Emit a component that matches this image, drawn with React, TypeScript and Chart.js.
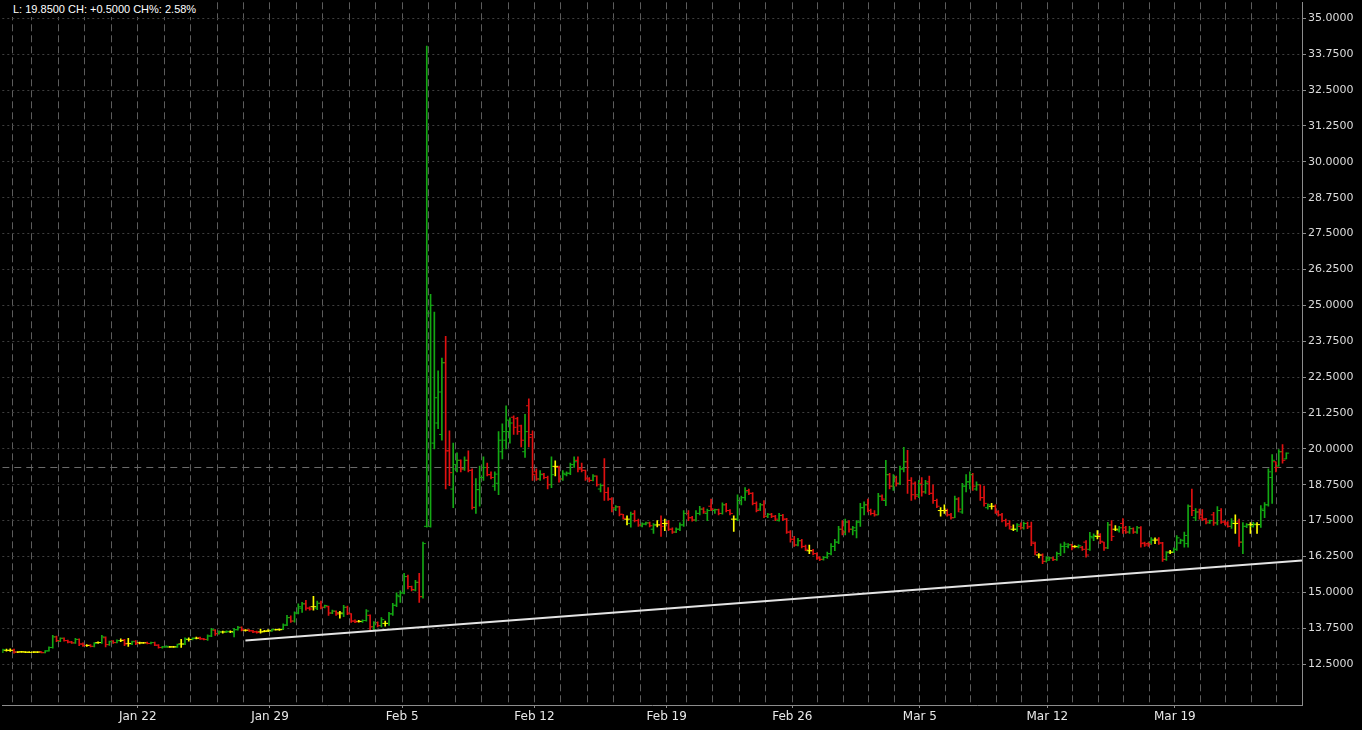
import React, { useEffect, useRef } from "react";
import { Chart, registerables } from "chart.js";

Chart.register(...registerables);

// [open, high, low, close]
type Bar = [number, number, number, number];

// Trading days shown (first and last are partial sessions)
const dayDates: string[] = [
  "Jan 12",
  "Jan 15", "Jan 16", "Jan 17", "Jan 18", "Jan 19",
  "Jan 22", "Jan 23", "Jan 24", "Jan 25", "Jan 26",
  "Jan 29", "Jan 30", "Jan 31", "Feb 1", "Feb 2",
  "Feb 5", "Feb 6", "Feb 7", "Feb 8", "Feb 9",
  "Feb 12", "Feb 13", "Feb 14", "Feb 15", "Feb 16",
  "Feb 19", "Feb 20", "Feb 21", "Feb 22", "Feb 23",
  "Feb 26", "Feb 27", "Feb 28", "Mar 1", "Mar 2",
  "Mar 5", "Mar 6", "Mar 7", "Mar 8", "Mar 9",
  "Mar 12", "Mar 13", "Mar 14", "Mar 15", "Mar 16",
  "Mar 19", "Mar 20", "Mar 21", "Mar 22", "Mar 23",
];

// Session length (hours) of each day on the time axis
const sessionHours: number[] = [
  3,
  5.25, 7, 7, 7, 7,
  7, 7, 7, 7, 7,
  7, 7, 7, 7, 7,
  7, 7, 7, 7, 7,
  7, 7, 7, 7, 7,
  5.25, 7, 7, 7, 7,
  6.75, 6.75, 6.75, 6.75, 6.75,
  6.75, 6.75, 6.75, 6.75, 6.75,
  6.75, 6.75, 6.75, 6.75, 6.75,
  6.75, 6.75, 6.75, 6.75, 3,
];

const labeledDays: string[] = ["Jan 22", "Jan 29", "Feb 5", "Feb 12", "Feb 19", "Feb 26", "Mar 5", "Mar 12", "Mar 19"];

const yTickValues: number[] = [12.5, 13.75, 15, 16.25, 17.5, 18.75, 20, 21.25, 22.5, 23.75, 25, 26.25, 27.5, 28.75, 30, 31.25, 32.5, 33.75, 35];

const weekJan12: Bar[][] = [
  [[12.92, 13.02, 12.9, 13.0], [12.98, 13.02, 12.95, 12.98], [12.98, 13.03, 12.94, 12.98]],
];

const weekJan15: Bar[][] = [
  [[12.99, 13.02, 12.88, 12.92], [12.92, 12.94, 12.9, 12.92], [12.93, 12.95, 12.91, 12.93], [12.92, 12.94, 12.9, 12.92], [12.91, 12.93, 12.9, 12.91]],
  [[12.92, 12.94, 12.9, 12.92], [12.92, 12.94, 12.9, 12.92], [12.93, 12.94, 12.89, 12.9], [12.9, 12.97, 12.89, 12.96], [12.96, 13.1, 12.95, 13.08], [13.08, 13.5, 13.06, 13.45], [13.45, 13.48, 13.28, 13.32]],
  [[13.3, 13.42, 13.28, 13.4], [13.4, 13.42, 13.3, 13.32], [13.32, 13.34, 13.24, 13.27], [13.27, 13.29, 13.22, 13.24], [13.24, 13.4, 13.22, 13.36], [13.36, 13.38, 13.14, 13.2], [13.2, 13.24, 13.12, 13.15]],
  [[13.15, 13.18, 13.12, 13.15], [13.16, 13.18, 13.1, 13.12], [13.12, 13.25, 13.1, 13.22], [13.25, 13.28, 13.22, 13.25], [13.25, 13.5, 13.22, 13.45], [13.42, 13.45, 13.1, 13.18], [13.18, 13.3, 13.15, 13.28]],
  [[13.3, 13.32, 13.22, 13.25], [13.25, 13.35, 13.24, 13.32], [13.32, 13.38, 13.28, 13.32], [13.34, 13.36, 13.14, 13.2], [13.22, 13.4, 13.12, 13.22], [13.2, 13.3, 13.18, 13.28], [13.3, 13.32, 13.18, 13.22]],
];

const weekJan22: Bar[][] = [
  [[13.24, 13.27, 13.2, 13.24], [13.24, 13.26, 13.22, 13.24], [13.25, 13.27, 13.2, 13.22], [13.22, 13.27, 13.2, 13.25], [13.25, 13.27, 13.14, 13.16], [13.16, 13.18, 13.06, 13.08], [13.08, 13.12, 13.06, 13.1]],
  [[13.1, 13.14, 13.08, 13.12], [13.1, 13.12, 13.08, 13.1], [13.1, 13.12, 13.08, 13.1], [13.1, 13.2, 13.08, 13.18], [13.2, 13.36, 13.08, 13.2], [13.2, 13.42, 13.18, 13.38], [13.36, 13.42, 13.3, 13.36]],
  [[13.36, 13.42, 13.34, 13.4], [13.4, 13.44, 13.38, 13.4], [13.42, 13.44, 13.36, 13.38], [13.38, 13.4, 13.34, 13.36], [13.36, 13.52, 13.33, 13.48], [13.48, 13.75, 13.46, 13.7], [13.68, 13.7, 13.5, 13.56]],
  [[13.56, 13.66, 13.54, 13.62], [13.62, 13.65, 13.58, 13.62], [13.62, 13.66, 13.6, 13.64], [13.63, 13.66, 13.6, 13.63], [13.6, 13.75, 13.45, 13.7], [13.7, 13.82, 13.68, 13.78], [13.78, 13.8, 13.66, 13.7]],
  [[13.68, 13.7, 13.65, 13.68], [13.69, 13.7, 13.64, 13.66], [13.66, 13.68, 13.6, 13.62], [13.63, 13.65, 13.58, 13.6], [13.62, 13.72, 13.58, 13.62], [13.64, 13.68, 13.62, 13.64], [13.66, 13.7, 13.63, 13.66]],
];

const weekJan29: Bar[][] = [
  [[13.66, 13.72, 13.64, 13.7], [13.7, 13.72, 13.68, 13.7], [13.7, 13.73, 13.67, 13.7], [13.72, 13.9, 13.7, 13.86], [13.86, 14.2, 13.84, 14.12], [14.12, 14.18, 13.95, 14.0], [14.0, 14.32, 13.96, 14.28]],
  [[14.28, 14.6, 14.25, 14.5], [14.45, 14.65, 14.3, 14.6], [14.6, 14.72, 14.38, 14.45], [14.45, 14.5, 14.38, 14.42], [14.5, 14.86, 14.38, 14.5], [14.45, 14.7, 14.4, 14.62], [14.62, 14.7, 14.42, 14.48]],
  [[14.48, 14.56, 14.46, 14.54], [14.5, 14.52, 14.2, 14.28], [14.28, 14.38, 14.26, 14.35], [14.34, 14.36, 14.2, 14.24], [14.28, 14.34, 14.1, 14.28], [14.25, 14.55, 14.15, 14.48], [14.48, 14.52, 14.22, 14.28]],
  [[14.25, 14.26, 13.95, 14.0], [14.0, 14.04, 13.94, 13.97], [13.99, 14.03, 13.96, 13.99], [13.98, 14.04, 13.95, 14.02], [14.02, 14.4, 14.0, 14.35], [14.2, 14.22, 13.68, 13.8], [13.8, 13.98, 13.7, 13.94]],
  [[13.95, 13.97, 13.8, 13.84], [13.84, 14.12, 13.8, 14.05], [13.92, 14.0, 13.82, 13.92], [13.92, 14.3, 13.85, 14.25], [14.25, 14.62, 14.2, 14.55], [14.55, 14.98, 14.5, 14.9], [14.85, 15.05, 14.65, 14.98]],
];

const weekFeb05: Bar[][] = [
  [[14.98, 15.66, 14.95, 15.55], [15.55, 15.6, 15.12, 15.2], [15.2, 15.22, 15.05, 15.1], [15.08, 15.42, 15.05, 15.35], [15.35, 15.66, 14.65, 14.85], [14.85, 16.75, 14.8, 16.7], [17.3, 34.03, 17.27, 24.73]],
  [[17.3, 25.38, 17.27, 25.0], [20.2, 24.76, 20.0, 21.78], [20.9, 22.72, 20.7, 21.98], [20.5, 23.16, 20.3, 23.0], [23.0, 23.92, 18.6, 19.93], [19.93, 20.63, 18.72, 19.17], [18.6, 20.2, 17.95, 19.45]],
  [[19.3, 19.86, 19.2, 19.6], [19.6, 19.62, 19.2, 19.3], [19.3, 19.72, 19.25, 19.6], [19.6, 19.93, 19.2, 19.25], [19.25, 19.3, 17.9, 17.96], [17.96, 18.96, 17.75, 18.58], [18.58, 19.4, 18.0, 19.0]],
  [[19.0, 19.72, 18.9, 19.35], [19.35, 19.5, 19.06, 19.1], [19.1, 19.2, 18.95, 19.0], [18.7, 19.2, 18.55, 19.12], [18.8, 20.6, 18.4, 20.3], [19.9, 20.87, 19.65, 20.6], [20.3, 21.5, 20.0, 21.0]],
  [[20.6, 21.08, 20.2, 20.9], [21.1, 21.15, 20.5, 20.75], [21.05, 21.1, 20.5, 20.6], [20.8, 20.83, 20.07, 20.3], [19.9, 21.2, 19.7, 20.6], [21.5, 21.74, 20.07, 20.4], [20.5, 20.63, 18.9, 19.1]],
];

const weekFeb12: Bar[][] = [
  [[19.2, 19.3, 18.9, 18.95], [18.95, 19.24, 18.9, 19.1], [19.12, 19.15, 18.95, 19.0], [19.0, 19.05, 18.6, 18.75], [18.75, 19.72, 18.65, 19.1], [19.39, 19.58, 19.06, 19.39], [19.35, 19.4, 18.84, 18.95]],
  [[18.95, 19.24, 18.9, 19.15], [19.1, 19.2, 19.06, 19.15], [19.15, 19.5, 19.1, 19.45], [19.45, 19.72, 19.35, 19.55], [19.6, 19.72, 19.2, 19.3], [19.3, 19.5, 19.2, 19.25], [19.25, 19.26, 18.9, 18.98]],
  [[18.95, 19.0, 18.85, 18.9], [18.9, 19.1, 18.88, 19.05], [19.05, 19.06, 18.7, 18.75], [18.6, 18.78, 18.5, 18.72], [18.72, 19.66, 18.2, 18.48], [18.48, 18.65, 18.2, 18.25], [18.25, 18.3, 17.8, 17.95]],
  [[17.9, 18.02, 17.85, 17.98], [17.98, 18.0, 17.66, 17.72], [17.72, 17.72, 17.55, 17.58], [17.55, 17.67, 17.35, 17.55], [17.4, 17.8, 17.27, 17.72], [17.75, 17.85, 17.45, 17.5], [17.5, 17.55, 17.3, 17.35]],
  [[17.32, 17.42, 17.28, 17.38], [17.38, 17.45, 17.35, 17.42], [17.42, 17.45, 17.28, 17.32], [17.2, 17.4, 17.05, 17.35], [17.35, 17.5, 17.28, 17.35], [17.35, 17.67, 16.95, 17.3], [17.4, 17.55, 17.15, 17.4]],
];

const weekFeb19: Bar[][] = [
  [[17.45, 17.5, 17.15, 17.2], [17.2, 17.25, 17.05, 17.1], [17.1, 17.25, 17.08, 17.2], [17.2, 17.42, 17.15, 17.35], [17.35, 17.85, 17.3, 17.75]],
  [[17.75, 17.85, 17.5, 17.6], [17.6, 17.65, 17.48, 17.52], [17.52, 17.85, 17.48, 17.75], [17.75, 18.0, 17.7, 17.9], [17.9, 17.95, 17.75, 17.8], [17.75, 17.9, 17.5, 17.85], [18.0, 18.25, 17.85, 17.9]],
  [[17.85, 17.9, 17.75, 17.88], [17.88, 17.9, 17.7, 17.75], [17.75, 18.12, 17.72, 18.05], [18.05, 18.1, 17.8, 17.85], [17.85, 17.88, 17.7, 17.75], [17.55, 17.67, 17.12, 17.55], [17.55, 18.4, 17.5, 18.2]],
  [[18.2, 18.35, 18.05, 18.3], [18.3, 18.65, 18.2, 18.5], [18.55, 18.6, 18.4, 18.45], [18.45, 18.48, 18.05, 18.1], [18.1, 18.15, 17.8, 17.85], [17.9, 18.1, 17.85, 18.05], [18.05, 18.2, 17.6, 17.65]],
  [[17.65, 17.75, 17.6, 17.72], [17.72, 17.75, 17.6, 17.65], [17.65, 17.68, 17.5, 17.55], [17.5, 17.75, 17.48, 17.68], [17.68, 17.72, 17.5, 17.55], [17.55, 17.58, 17.05, 17.1], [17.1, 17.15, 16.75, 16.85]],
];

const weekFeb26: Bar[][] = [
  [[16.85, 16.95, 16.6, 16.65], [16.65, 16.88, 16.62, 16.8], [16.8, 16.85, 16.55, 16.6], [16.6, 16.65, 16.45, 16.5], [16.45, 16.65, 16.35, 16.45], [16.45, 16.5, 16.3, 16.35], [16.35, 16.38, 16.15, 16.2]],
  [[16.2, 16.25, 16.1, 16.15], [16.15, 16.25, 16.12, 16.22], [16.22, 16.4, 16.18, 16.35], [16.35, 16.7, 16.3, 16.6], [16.6, 16.85, 16.45, 16.75], [16.75, 17.3, 16.7, 17.2], [17.2, 17.5, 17.0, 17.1]],
  [[17.1, 17.55, 17.0, 17.45], [17.45, 17.5, 17.1, 17.2], [17.2, 17.3, 17.0, 17.25], [17.15, 17.5, 16.9, 17.45], [17.45, 18.1, 17.3, 17.95], [17.95, 18.15, 17.7, 18.05], [18.05, 18.25, 17.8, 17.85]],
  [[17.85, 17.9, 17.7, 17.75], [17.75, 17.85, 17.65, 17.7], [17.7, 18.45, 17.7, 18.35], [18.35, 18.4, 18.2, 18.25], [18.2, 19.6, 18.02, 19.1], [19.1, 19.15, 18.6, 18.7], [18.7, 19.1, 18.55, 19.0]],
  [[19.0, 19.05, 18.7, 18.8], [18.8, 19.4, 18.75, 19.3], [19.3, 20.05, 19.2, 19.55], [19.55, 19.95, 18.45, 18.9], [18.9, 19.0, 18.2, 18.4], [18.8, 18.85, 18.25, 18.35], [18.4, 18.9, 18.3, 18.75]],
];

const weekMar05: Bar[][] = [
  [[18.8, 19.0, 18.35, 18.5], [18.5, 18.9, 18.45, 18.8], [18.85, 19.05, 18.4, 18.45], [18.45, 18.75, 18.1, 18.2], [18.2, 18.25, 17.95, 18.0], [17.85, 17.95, 17.65, 17.85], [17.85, 18.05, 17.75, 17.85]],
  [[17.85, 17.9, 17.65, 17.7], [17.7, 17.75, 17.55, 17.6], [17.6, 18.35, 17.6, 18.25], [18.25, 18.3, 17.8, 17.9], [17.8, 18.8, 17.75, 18.7], [18.7, 19.1, 18.5, 18.85], [18.85, 19.2, 18.6, 19.1]],
  [[19.1, 19.15, 18.55, 18.7], [18.6, 18.85, 18.55, 18.75], [18.75, 18.75, 18.2, 18.3], [18.3, 18.7, 18.0, 18.1], [17.95, 18.08, 17.9, 18.05], [18.0, 18.1, 17.9, 18.0], [18.0, 18.05, 17.75, 17.8]],
  [[17.8, 17.85, 17.65, 17.7], [17.7, 17.75, 17.45, 17.5], [17.5, 17.55, 17.3, 17.35], [17.4, 17.5, 17.2, 17.28], [17.2, 17.35, 17.15, 17.2], [17.2, 17.4, 17.12, 17.35], [17.3, 17.42, 17.2, 17.25]],
  [[17.25, 17.45, 17.2, 17.4], [17.4, 17.45, 17.22, 17.28], [17.3, 17.45, 16.63, 16.75], [16.7, 16.75, 16.3, 16.4], [16.3, 16.35, 16.2, 16.3], [16.3, 16.34, 16.0, 16.08], [16.08, 16.25, 16.05, 16.2]],
];

const weekMar12: Bar[][] = [
  [[16.12, 16.23, 16.11, 16.2], [16.2, 16.23, 16.1, 16.14], [16.14, 16.4, 16.11, 16.35], [16.35, 16.69, 16.28, 16.6], [16.6, 16.75, 16.37, 16.68], [16.6, 16.7, 16.55, 16.65], [16.67, 16.67, 16.48, 16.55]],
  [[16.6, 16.63, 16.56, 16.6], [16.58, 16.66, 16.55, 16.62], [16.57, 16.6, 16.46, 16.5], [16.75, 16.8, 16.23, 16.3], [16.5, 17.09, 16.46, 16.95], [16.9, 17.04, 16.8, 16.98], [16.95, 17.15, 16.86, 16.95]],
  [[17.0, 17.05, 16.7, 16.78], [16.75, 16.75, 16.46, 16.55], [16.55, 17.44, 16.52, 17.35], [17.35, 17.5, 16.8, 16.95], [17.2, 17.33, 17.15, 17.2], [17.15, 17.3, 17.1, 17.25], [17.4, 17.57, 17.05, 17.15]],
  [[17.25, 17.3, 17.05, 17.1], [17.1, 17.3, 17.05, 17.22], [17.22, 17.25, 17.05, 17.1], [17.1, 17.3, 17.05, 17.25], [17.25, 17.29, 16.57, 16.7], [16.72, 16.75, 16.6, 16.65], [16.7, 16.75, 16.6, 16.68]],
  [[16.75, 16.91, 16.67, 16.85], [16.82, 16.9, 16.7, 16.82], [16.85, 16.91, 16.67, 16.72], [16.72, 16.74, 16.08, 16.15], [16.15, 16.42, 16.11, 16.38], [16.4, 16.46, 16.35, 16.4], [16.4, 16.55, 16.38, 16.5]],
];

const weekMar19: Bar[][] = [
  [[16.5, 16.98, 16.46, 16.9], [16.72, 16.86, 16.7, 16.82], [16.8, 17.1, 16.57, 16.98], [16.7, 18.05, 16.57, 18.0], [18.0, 18.6, 17.67, 17.85], [17.6, 17.92, 17.5, 17.8], [17.8, 17.9, 17.55, 17.6]],
  [[17.7, 17.88, 17.5, 17.55], [17.55, 17.58, 17.38, 17.45], [17.42, 17.52, 17.4, 17.5], [17.7, 17.79, 17.33, 17.42], [17.42, 17.99, 17.35, 17.85], [17.85, 17.92, 17.4, 17.45], [17.45, 17.5, 17.35, 17.38]],
  [[17.42, 17.47, 17.27, 17.3], [17.3, 17.57, 17.23, 17.45], [17.4, 17.7, 17.05, 17.4], [17.45, 17.55, 16.6, 16.75], [16.75, 17.43, 16.35, 17.3], [17.3, 17.4, 17.25, 17.35], [17.36, 17.43, 17.05, 17.36]],
  [[17.3, 17.44, 17.27, 17.38], [17.36, 17.43, 17.05, 17.36], [17.36, 18.02, 17.26, 17.9], [17.85, 18.13, 17.6, 18.05], [18.05, 19.3, 18.0, 19.2], [19.0, 19.8, 18.1, 19.6], [19.55, 19.55, 19.2, 19.35]],
  [[19.4, 19.97, 19.4, 19.9], [19.9, 20.15, 19.5, 19.6], [19.65, 19.86, 19.65, 19.85]],
];

// Support trend line: starts at the first bar of this day, runs to the right edge
const trendStartDay = "Jan 26";
const trendStartPrice = 13.32;
const trendEndPrice = 16.11;

// ---- layout constants ----
const WIDTH = 1362;
const HEIGHT = 730;
const X_MIN = -2.6;
const X_MAX = 341.4;
const Y_MIN = 11.076;
const Y_MAX = 35.556;
const TICK_OFF = 0.4;

const UP = "#13a813";
const DOWN = "#e01010";
const FLAT = "#ffff00";

const days: Bar[][] = [
  ...weekJan12, ...weekJan15, ...weekJan22, ...weekJan29, ...weekFeb05,
  ...weekFeb12, ...weekFeb19, ...weekFeb26, ...weekMar05, ...weekMar12, ...weekMar19,
];

const dayStarts: number[] = [];
{
  let acc = -sessionHours[0];
  sessionHours.forEach((h) => {
    dayStarts.push(acc);
    acc += h;
  });
}

const bars: Bar[] = [];
const barX: number[] = [];
days.forEach((d, i) => {
  d.forEach((b, k) => {
    bars.push(b);
    barX.push(dayStarts[i] + k + 0.5);
  });
});

const colorOf = (b: Bar) => (b[3] > b[0] ? UP : b[3] < b[0] ? DOWN : FLAT);
const barColors = bars.map(colorOf);

const tickValues: number[] = [];
const tickLabels: string[] = [];
dayStarts.forEach((s, i) => {
  if (s >= X_MIN && s <= X_MAX) {
    tickValues.push(s);
    tickLabels.push(labeledDays.includes(dayDates[i]) ? dayDates[i] : "");
  }
});

const lastDay = days[days.length - 1];
const prevDay = days[days.length - 2];
const lastPrice = lastDay[lastDay.length - 1][3];
const prevClose = prevDay[prevDay.length - 1][3];
const change = lastPrice - prevClose;
const changePct = (change / prevClose) * 100;
const headerText = `L: ${lastPrice.toFixed(4)} CH: ${change >= 0 ? "+" : ""}${change.toFixed(4)} CH%: ${changePct.toFixed(2)}%`;

const trendStartX = dayStarts[dayDates.indexOf(trendStartDay)] + 0.5;

export default function App() {
  const canvasRef = useRef<HTMLCanvasElement | null>(null);

  useEffect(() => {
    document.body.style.margin = "0";
    document.body.style.background = "#000";
    const canvas = canvasRef.current;
    if (!canvas) return;

    const chart = new Chart(canvas, {
      type: "bar",
      data: {
        datasets: [
          {
            type: "line",
            label: "prev close",
            data: [
              { x: X_MIN, y: prevClose },
              { x: X_MAX, y: prevClose },
            ],
            borderColor: "#6c6c6c",
            borderWidth: 1,
            borderDash: [7, 5],
            pointRadius: 0,
            order: 10,
          } as any,
          {
            type: "bar",
            label: "range",
            data: bars.map((b, i) => ({ x: barX[i], y: [b[2], b[1]] })),
            backgroundColor: barColors,
            borderWidth: 0,
            barThickness: 1,
            minBarLength: 1,
            order: 5,
          } as any,
          {
            type: "line",
            label: "open",
            data: bars.map((b, i) => ({ x: barX[i] - TICK_OFF, y: b[0] })),
            showLine: false,
            pointStyle: "line",
            pointRadius: 1.3,
            pointHoverRadius: 0,
            pointBorderWidth: 1,
            pointBorderColor: barColors,
            pointBackgroundColor: barColors,
            order: 4,
          } as any,
          {
            type: "line",
            label: "close",
            data: bars.map((b, i) => ({ x: barX[i] + TICK_OFF, y: b[3] })),
            showLine: false,
            pointStyle: "line",
            pointRadius: 1.3,
            pointHoverRadius: 0,
            pointBorderWidth: 1,
            pointBorderColor: barColors,
            pointBackgroundColor: barColors,
            order: 3,
          } as any,
          {
            type: "line",
            label: "trend",
            data: [
              { x: trendStartX, y: trendStartPrice },
              { x: X_MAX, y: trendEndPrice },
            ],
            borderColor: "#e4e4e4",
            borderWidth: 2,
            pointRadius: 0,
            order: 1,
          } as any,
        ],
      },
      options: {
        animation: false,
        responsive: false,
        devicePixelRatio: 1,
        events: [],
        layout: { padding: 0 },
        plugins: {
          legend: { display: false },
          tooltip: { enabled: false },
          title: { display: false },
        },
        scales: {
          x: {
            type: "linear",
            position: "bottom",
            min: X_MIN,
            max: X_MAX,
            offset: false,
            grid: {
              offset: false,
              color: "#5c5c5c",
              lineWidth: 1,
              drawTicks: true,
              tickLength: 3,
              tickColor: (c: any) => (tickLabels[c.index] ? "#8c8c8c" : "rgba(0,0,0,0)"),
            },
            border: { display: true, color: "#8c8c8c", width: 1, dash: [7, 4] },
            ticks: {
              autoSkip: false,
              maxRotation: 0,
              minRotation: 0,
              padding: 2,
              color: "#e8e8e8",
              font: { family: "DejaVu Sans", size: 12 },
              callback: (_v: any, i: number) => tickLabels[i] ?? "",
            },
            afterBuildTicks: (s: any) => {
              s.ticks = tickValues.map((v) => ({ value: v }));
            },
            afterFit: (s: any) => {
              s.height = 25;
              s.paddingLeft = 0;
              s.paddingRight = 0;
            },
          } as any,
          y: {
            type: "linear",
            position: "right",
            min: Y_MIN,
            max: Y_MAX,
            beginAtZero: false,
            grid: {
              color: "#3e3e3e",
              lineWidth: 1,
              drawTicks: true,
              tickLength: 4,
              tickColor: "#8c8c8c",
            },
            border: { display: true, color: "#8c8c8c", width: 1, dash: [2, 3] },
            ticks: {
              padding: 2,
              color: "#dcdcdc",
              font: { family: "DejaVu Sans", size: 11 },
              callback: (v: any) => Number(v).toFixed(4),
            },
            afterBuildTicks: (s: any) => {
              s.ticks = yTickValues.map((v) => ({ value: v }));
            },
            afterFit: (s: any) => {
              s.width = 60;
              s.paddingTop = 0;
              s.paddingBottom = 0;
            },
          } as any,
        },
      } as any,
    });

    return () => chart.destroy();
  }, []);

  return (
    <div style={{ position: "relative", width: WIDTH, height: HEIGHT, background: "#000", overflow: "hidden" }}>
      <canvas ref={canvasRef} width={WIDTH} height={HEIGHT} style={{ display: "block", width: WIDTH, height: HEIGHT }} />
      <div
        style={{
          position: "absolute",
          left: 8,
          top: 1,
          padding: "1px 5px",
          background: "#000",
          color: "#ffffff",
          font: '11px "Liberation Sans", Arial, sans-serif',
          lineHeight: "14px",
          whiteSpace: "nowrap",
        }}
      >
        {headerText}
      </div>
    </div>
  );
}
